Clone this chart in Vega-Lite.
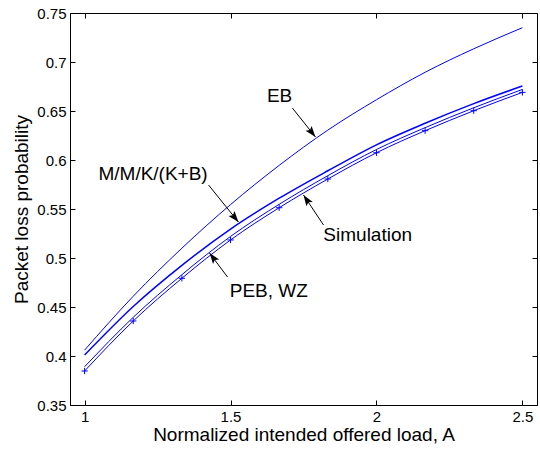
{
  "$schema": "https://vega.github.io/schema/vega-lite/v6.json",
  "width": 467,
  "height": 392,
  "autosize": {"type": "none"},
  "padding": {"left": 70, "top": 13, "right": 3, "bottom": 44},
  "background": "white",
  "config": {
    "view": {"stroke": "black", "strokeWidth": 1},
    "axis": {
      "grid": false,
      "domainColor": "black",
      "tickColor": "black",
      "labelColor": "black",
      "titleColor": "black",
      "labelFont": "Liberation Sans",
      "titleFont": "Liberation Sans",
      "labelFontSize": 15,
      "titleFontSize": 19,
      "titleFontWeight": "normal",
      "tickSize": -5,
      "labelFlush": false,
      "labelOverlap": false,
      "labelBound": false
    }
  },
  "datasets": {
    "curves": [
      {"A": 1.0, "p": 0.406, "s": "EB"},
      {"A": 1.1667, "p": 0.461, "s": "EB"},
      {"A": 1.3333, "p": 0.51, "s": "EB"},
      {"A": 1.5, "p": 0.5545, "s": "EB"},
      {"A": 1.6667, "p": 0.5945, "s": "EB"},
      {"A": 1.8333, "p": 0.6305, "s": "EB"},
      {"A": 2.0, "p": 0.6615, "s": "EB"},
      {"A": 2.1667, "p": 0.6895, "s": "EB"},
      {"A": 2.3333, "p": 0.7135, "s": "EB"},
      {"A": 2.5, "p": 0.735, "s": "EB"},
      {"A": 1.0, "p": 0.401, "s": "MMK"},
      {"A": 1.1667, "p": 0.4505, "s": "MMK"},
      {"A": 1.3333, "p": 0.4925, "s": "MMK"},
      {"A": 1.5, "p": 0.5295, "s": "MMK"},
      {"A": 1.6667, "p": 0.561, "s": "MMK"},
      {"A": 1.8333, "p": 0.589, "s": "MMK"},
      {"A": 2.0, "p": 0.6155, "s": "MMK"},
      {"A": 2.1667, "p": 0.6375, "s": "MMK"},
      {"A": 2.3333, "p": 0.6575, "s": "MMK"},
      {"A": 2.5, "p": 0.6755, "s": "MMK"},
      {"A": 1.0, "p": 0.389, "s": "PEB"},
      {"A": 1.1667, "p": 0.4395, "s": "PEB"},
      {"A": 1.3333, "p": 0.483, "s": "PEB"},
      {"A": 1.5, "p": 0.522, "s": "PEB"},
      {"A": 1.6667, "p": 0.5548, "s": "PEB"},
      {"A": 1.8333, "p": 0.584, "s": "PEB"},
      {"A": 2.0, "p": 0.6107, "s": "PEB"},
      {"A": 2.1667, "p": 0.633, "s": "PEB"},
      {"A": 2.3333, "p": 0.6533, "s": "PEB"},
      {"A": 2.5, "p": 0.672, "s": "PEB"},
      {"A": 1.0, "p": 0.3847, "s": "Sim"},
      {"A": 1.1667, "p": 0.4357, "s": "Sim"},
      {"A": 1.3333, "p": 0.4793, "s": "Sim"},
      {"A": 1.5, "p": 0.5184, "s": "Sim"},
      {"A": 1.6667, "p": 0.5513, "s": "Sim"},
      {"A": 1.8333, "p": 0.5806, "s": "Sim"},
      {"A": 2.0, "p": 0.6074, "s": "Sim"},
      {"A": 2.1667, "p": 0.6299, "s": "Sim"},
      {"A": 2.3333, "p": 0.6503, "s": "Sim"},
      {"A": 2.5, "p": 0.669, "s": "Sim"}
    ],
    "labels": [
      {"label": "EB", "x": 1.668, "y": 0.665},
      {"label": "M/M/K/(K+B)", "x": 1.2346, "y": 0.5857},
      {"label": "Simulation", "x": 1.970, "y": 0.5238},
      {"label": "PEB, WZ", "x": 1.631, "y": 0.4661}
    ],
    "arrows": [
      {"x": 1.712, "y": 0.653, "x2": 1.791, "y2": 0.6235},
      {"x": 1.4247, "y": 0.5745, "x2": 1.527, "y2": 0.5367},
      {"x": 1.8185, "y": 0.5337, "x2": 1.75, "y2": 0.5643},
      {"x": 1.4897, "y": 0.4806, "x2": 1.428, "y2": 0.5051}
    ]
  },
  "layer": [
    {
      "data": {"name": "curves"},
      "transform": [{"filter": "datum.s === 'EB'"}],
      "mark": {"type": "line", "color": "#0000ff", "strokeWidth": 1, "interpolate": "monotone"},
      "encoding": {
        "x": {"field": "A", "type": "quantitative", "scale": {"domain": [0.95, 2.55], "nice": false, "zero": false},
              "axis": {"orient": "bottom", "values": [1, 1.5, 2, 2.5], "format": "~g", "title": "Normalized intended offered load, A", "labelPadding": 9, "titlePadding": 1}},
        "y": {"field": "p", "type": "quantitative", "scale": {"domain": [0.35, 0.75], "nice": false, "zero": false},
              "axis": {"orient": "left", "values": [0.35, 0.4, 0.45, 0.5, 0.55, 0.6, 0.65, 0.7, 0.75], "format": ".2~f", "title": "Packet loss probability", "labelPadding": 9, "titlePadding": 5}}
      }
    },
    {
      "data": {"name": "curves"},
      "transform": [{"filter": "datum.s === 'MMK'"}],
      "mark": {"type": "line", "color": "#0000ff", "strokeWidth": 1.5, "interpolate": "monotone"},
      "encoding": {
        "x": {"field": "A", "type": "quantitative", "axis": null},
        "y": {"field": "p", "type": "quantitative", "axis": null}
      }
    },
    {
      "data": {"name": "curves"},
      "transform": [{"filter": "datum.s === 'PEB'"}],
      "mark": {"type": "line", "color": "#0000ff", "strokeWidth": 1, "interpolate": "monotone"},
      "encoding": {
        "x": {"field": "A", "type": "quantitative", "axis": null},
        "y": {"field": "p", "type": "quantitative", "axis": null}
      }
    },
    {
      "data": {"name": "curves"},
      "transform": [{"filter": "datum.s === 'Sim'"}],
      "mark": {"type": "line", "color": "#0000ff", "strokeWidth": 1, "interpolate": "monotone"},
      "encoding": {
        "x": {"field": "A", "type": "quantitative", "axis": null},
        "y": {"field": "p", "type": "quantitative", "axis": null}
      }
    },
    {
      "data": {"name": "curves"},
      "transform": [{"filter": "datum.s === 'Sim'"}],
      "mark": {"type": "point", "shape": "M-1,0L1,0M0,-1L0,1", "filled": false, "stroke": "#0000ff", "strokeWidth": 1, "size": 40, "opacity": 1},
      "encoding": {
        "x": {"field": "A", "type": "quantitative", "axis": null},
        "y": {"field": "p", "type": "quantitative", "axis": null}
      }
    },
    {
      "data": {"name": "arrows"},
      "mark": {"type": "rule", "color": "black", "strokeWidth": 1},
      "encoding": {
        "x": {"field": "x", "type": "quantitative", "axis": null},
        "y": {"field": "y", "type": "quantitative", "axis": null},
        "x2": {"field": "x2"},
        "y2": {"field": "y2"}
      }
    },
    {
      "data": {"name": "arrows"},
      "transform": [{"calculate": "atan2((datum.x2 - datum.x) * 292, (datum.y2 - datum.y) * 980) * 180 / PI", "as": "ang"}],
      "mark": {"type": "point", "shape": "M0,0L-0.7,2L0,1.6L0.7,2Z", "filled": true, "color": "black", "size": 121, "opacity": 1},
      "encoding": {
        "x": {"field": "x2", "type": "quantitative", "axis": null},
        "y": {"field": "y2", "type": "quantitative", "axis": null},
        "angle": {"field": "ang", "type": "quantitative", "scale": null}
      }
    },
    {
      "data": {"name": "labels"},
      "mark": {"type": "text", "font": "Liberation Sans", "fontSize": 19, "color": "black", "align": "center", "baseline": "middle"},
      "encoding": {
        "x": {"field": "x", "type": "quantitative", "axis": {"orient": "top", "values": [1, 1.5, 2, 2.5], "labels": false, "title": null, "domain": false}},
        "y": {"field": "y", "type": "quantitative", "axis": {"orient": "right", "values": [0.35, 0.4, 0.45, 0.5, 0.55, 0.6, 0.65, 0.7, 0.75], "labels": false, "title": null, "domain": false}},
        "text": {"field": "label", "type": "nominal"}
      }
    }
  ]
}
